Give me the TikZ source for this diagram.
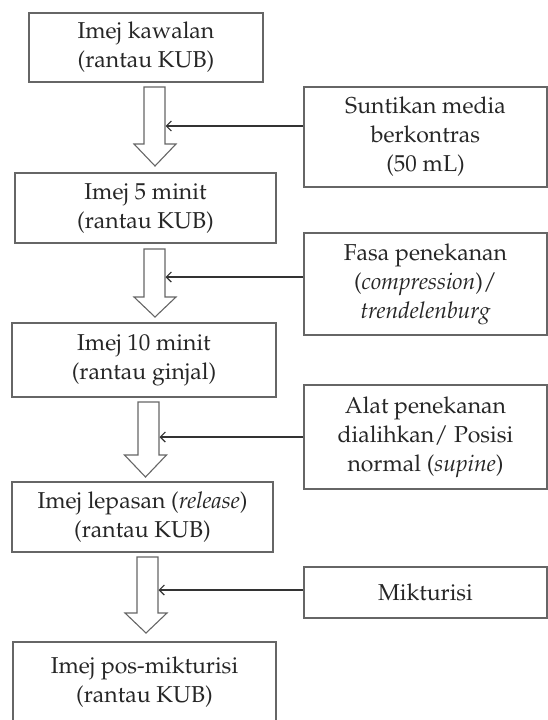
\documentclass[tikz,border=0pt]{standalone}
\usepackage[T1]{fontenc}
\usepackage{mathpazo}
\usepackage{xcolor}
\usetikzlibrary{arrows.meta}

\begin{document}
\begin{tikzpicture}[
            x=1pt, y=-1pt,
            box/.style = {
                draw=black!60, line width=1.1pt,
                align=center, inner sep=0pt,
                text=black!85,
                font=\fontsize{23}{29}\selectfont
            },
            side box/.style = {
                box, minimum width=243pt
            },
            feed/.style = {
                draw=black!80, line width=1.2pt,
                {Straight Barb[length=5pt,width=10pt]}-
            },
            hollow/.style = {
                draw=black!60, line width=1.1pt, fill=white
            }
            ]

            \useasboundingbox (0,0) rectangle (548,720);
            \clip (0,0) rectangle (548,720);

            % main column
            \node[box, minimum width=234pt, minimum height=69pt] (kawalan) at (146,47.5) {Imej kawalan \\ (rantau KUB)};
            \node[box, minimum width=261pt, minimum height=70pt] (lima) at (145.5,208) {Imej 5 minit \\ (rantau KUB)};
            \node[box, minimum width=264pt, minimum height=74pt] (sepuluh) at (144,360) {Imej 10 minit \\ (rantau ginjal)};
            \node[box, minimum width=261pt, minimum height=70pt] (lepasan) at (142.5,517) {Imej lepasan (\textit{release}) \\ (rantau KUB)};
            \node[box, minimum width=263pt, minimum height=80pt] (pos) at (144.5,682) {Imej pos-mikturisi \\ (rantau KUB)};

            % steps on the right
            \node[side box, minimum height=100pt] (suntikan) at (425.5,137) {Suntikan media \\ berkontras \\ (50 mL)};
            \node[side box, minimum height=102pt] (fasa) at (425.5,284) {Fasa penekanan \\ (\textit{compression})/ \\ \textit{trendelenburg}};
            \node[side box, minimum height=104pt] (alat) at (425.5,437) {Alat penekanan \\ dialihkan/ Posisi \\ normal (\textit{supine})};
            \node[side box, minimum height=51pt] (mikturisi) at (425.5,592.5) {Mikturisi};

            % hollow arrows between the images
            \foreach \i/\cx/\hx/\ya/\yb/\yc/\yf in {1/154.5/155/87/144/166/126, 2/154.5/155/249/297/317/277, 3/148.5/145.5/402/455/477/437, 4/147.5/146/557/613/633/590} {
                \draw[hollow] (\cx-10.5,\ya) -- (\cx+10.5,\ya) -- (\cx+10.5,\yb) -- (\hx+21,\yb)
                    -- (\hx,\yc) -- (\hx-21,\yb) -- (\cx-10.5,\yb) -- cycle;
                \coordinate (in\i) at (\cx+11,\yf);
            }

            \draw[feed] (in1) -- (in1 -| suntikan.west);
            \draw[feed] (in2) -- (in2 -| fasa.west);
            \draw[feed] (in3) -- (in3 -| alat.west);
            \draw[feed] (in4) -- (in4 -| mikturisi.west);

        \end{tikzpicture}
\end{document}
